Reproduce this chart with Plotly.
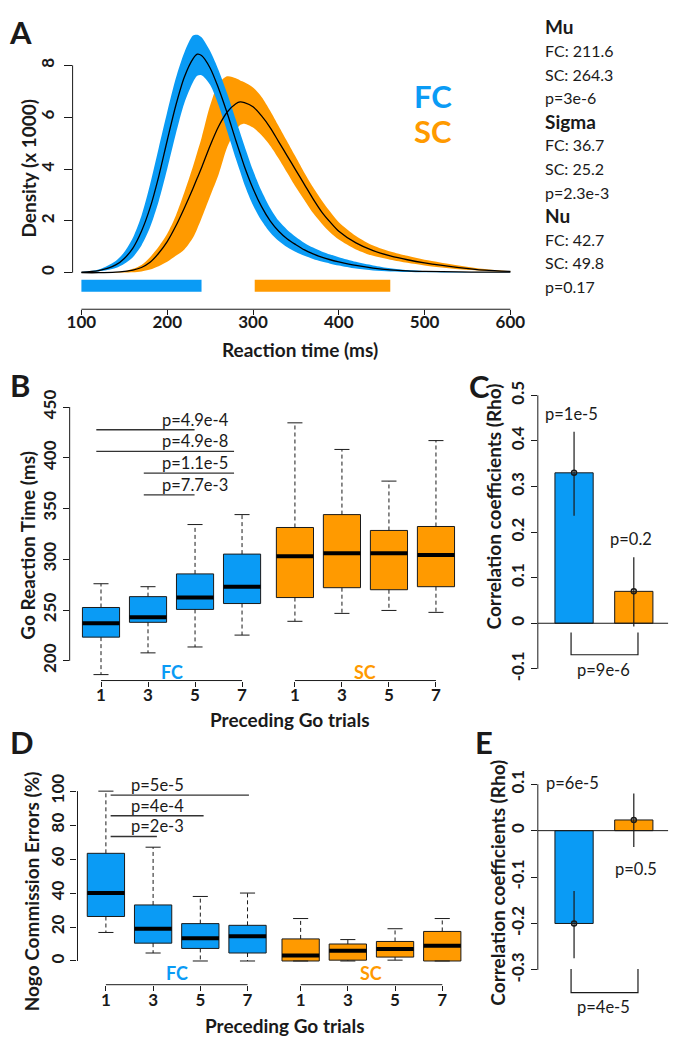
import plotly.graph_objects as go

W, H = 680, 1039
BLUE = '#0a9bf5'
ORANGE = '#ff9a00'
INK = '#1a1a1a'
FONT = 'Lato, "Open Sans", sans-serif'

# ---------------- Panel A: ex-Gaussian density fits (x 1000) ----------------
rt_ms = [100, 120, 140, 150, 160, 170, 180, 190, 200, 210, 220, 230, 235, 240, 250, 260, 270, 280, 285, 290,
         300, 310, 320, 330, 340, 350, 360, 370, 380, 390, 400, 420, 440, 460, 480, 500, 540, 570, 600]
fc_density = [0.02, 0.08, 0.3, 0.55, 0.95, 1.6, 2.5, 3.7, 5.1, 6.45, 7.55, 8.25, 8.43, 8.38, 7.9, 7.1, 6.15, 5.1, 4.6, 4.1,
              3.25, 2.55, 2.0, 1.6, 1.3, 1.08, 0.88, 0.73, 0.6, 0.5, 0.42, 0.28, 0.18, 0.11, 0.07, 0.05, 0.03, 0.02, 0.02]
fc_density_hi = [0.03, 0.12, 0.45, 0.8, 1.35, 2.2, 3.4, 4.8, 6.2, 7.5, 8.5, 9.15, 9.18, 9.08, 8.55, 7.8, 6.9, 5.9, 5.4, 4.9,
                 3.95, 3.15, 2.5, 2.0, 1.65, 1.38, 1.15, 0.97, 0.82, 0.7, 0.6, 0.42, 0.28, 0.17, 0.1, 0.06, 0.03, 0.02, 0.02]
fc_density_lo = [0.01, 0.05, 0.18, 0.35, 0.6, 1.05, 1.75, 2.75, 4.0, 5.35, 6.55, 7.35, 7.6, 7.62, 7.25, 6.45, 5.45, 4.4, 3.9, 3.4,
                 2.6, 2.0, 1.55, 1.22, 0.98, 0.8, 0.65, 0.53, 0.43, 0.35, 0.28, 0.16, 0.09, 0.05, 0.03, 0.02, 0.01, 0.01, 0.01]
sc_density = [0, 0, 0.02, 0.05, 0.1, 0.2, 0.4, 0.75, 1.2, 1.8, 2.5, 3.25, 3.65, 4.05, 4.9, 5.65, 6.2, 6.52, 6.59, 6.56,
              6.4, 6.05, 5.6, 5.05, 4.5, 3.95, 3.4, 2.85, 2.35, 1.95, 1.6, 1.15, 0.85, 0.65, 0.5, 0.38, 0.2, 0.1, 0.05]
sc_density_hi = [0, 0, 0.03, 0.06, 0.15, 0.3, 0.6, 1.0, 1.5, 2.2, 3.1, 4.1, 4.65, 5.2, 6.45, 7.3, 7.58, 7.5, 7.42, 7.35,
                 7.15, 6.78, 6.25, 5.65, 5.05, 4.45, 3.85, 3.3, 2.8, 2.35, 1.95, 1.42, 1.05, 0.82, 0.65, 0.5, 0.28, 0.14, 0.06]
sc_density_lo = [0, 0, 0.01, 0.01, 0.02, 0.05, 0.12, 0.25, 0.42, 0.65, 0.9, 1.35, 1.7, 2.1, 2.95, 3.8, 4.85, 5.5, 5.7, 5.75,
                 5.6, 5.3, 4.9, 4.4, 3.85, 3.3, 2.8, 2.3, 1.9, 1.55, 1.28, 0.9, 0.65, 0.5, 0.38, 0.28, 0.13, 0.07, 0.04]
fc_bar_ms = [100, 240]
sc_bar_ms = [302, 460]
param_names = ['Mu', 'Sigma', 'Nu']
param_fc = ['211.6', '36.7', '42.7']
param_sc = ['264.3', '25.2', '49.8']
param_p = ['p=3e-6', 'p=2.3e-3', 'p=0.17']

# ---------------- Panel B: Go RT boxplots ----------------
trial_labels = ['1', '3', '5', '7']
fc_pos = [1, 2, 3, 4]
sc_pos = [5.125, 6.125, 7.125, 8.125]
fc_rt_q1 = [223.3, 237.9, 250.6, 256.4]
fc_rt_med = [237.0, 242.8, 262.3, 273.0]
fc_rt_q3 = [252.5, 263.2, 285.6, 305.1]
fc_rt_lo = [186.4, 207.8, 213.6, 225.3]
fc_rt_hi = [275.9, 273.0, 334.2, 344.0]
sc_rt_q1 = [262.3, 272.0, 270.0, 273.0]
sc_rt_med = [303.1, 306.0, 306.0, 304.1]
sc_rt_q3 = [331.3, 344.0, 328.4, 332.3]
sc_rt_lo = [238.9, 246.7, 249.6, 247.7]
sc_rt_hi = [434.4, 408.2, 377.0, 416.9]
rt_sig_from = [0.9, 0.9, 1.91, 1.91]
rt_sig_to = [2.99, 3.83, 3.83, 2.99]
rt_sig_y = [427.6, 406.2, 384.8, 363.4]
rt_sig_text = ['p=4.9e-4', 'p=4.9e-8', 'p=1.1e-5', 'p=7.7e-3']

# ---------------- Panel C: correlation (Go RT) ----------------
groups = ['FC', 'SC']
grp_pos = [1, 2]
rho_go = [0.33, 0.07]
rho_go_lo = [0.236, -0.007]
rho_go_hi = [0.42, 0.145]
rho_go_p = ['p=1e-5', 'p=0.2']
rho_go_diff_p = 'p=9e-6'

# ---------------- Panel D: Nogo commission errors ----------------
fc_err_q1 = [26.2, 10.5, 7.4, 4.7]
fc_err_med = [40.0, 19.0, 13.4, 14.5]
fc_err_q3 = [63.4, 33.0, 22.0, 21.0]
fc_err_lo = [16.8, 4.7, 0.0, 0.0]
fc_err_hi = [100.0, 67.0, 38.0, 40.0]
sc_err_q1 = [0.0, 0.5, 2.3, 0.0]
sc_err_med = [3.3, 6.0, 7.0, 9.0]
sc_err_q3 = [13.0, 10.0, 11.5, 17.4]
sc_err_lo = [0.0, 0.0, 0.5, 0.0]
sc_err_hi = [25.0, 12.6, 19.0, 25.0]
err_sig_from = [1.10, 1.10, 1.10]
err_sig_to = [4.03, 3.07, 2.08]
err_sig_y = [97.7, 85.5, 73.3]
err_sig_text = ['p=5e-5', 'p=4e-4', 'p=2e-3']

# ---------------- Panel E: correlation (Nogo errors) ----------------
rho_ng = [-0.2, 0.023]
rho_ng_lo = [-0.275, -0.035]
rho_ng_hi = [-0.13, 0.08]
rho_ng_p = ['p=6e-5', 'p=0.5']
rho_ng_diff_p = 'p=4e-5'


def xd(a, b):
    return [a / W, b / W]


def yd(top, bottom):
    return [1 - bottom / H, 1 - top / H]


fig = go.Figure()
TICKFONT = dict(family=FONT, size=17, color=INK, weight='bold')
XTICK = dict(family=FONT, size=17, color=INK, weight='bold')
TITLE = 19
PFONT = 16.5


def base_axis(domain, rng, **kw):
    d = dict(domain=domain, range=rng, showgrid=False, zeroline=False, showline=False,
             ticks='outside', ticklen=6, tickwidth=1, tickcolor=INK, tickfont=TICKFONT)
    d.update(kw)
    return d


def ann(text, x, y, size, bold=False, color=INK, angle=0, xanchor='center', xref='paper', yref='paper', yanchor='middle'):
    if xref == 'paper':
        x = x / W
    if yref == 'paper':
        y = 1 - y / H
    fig.add_annotation(text=text, x=x, y=y, xref=xref, yref=yref, showarrow=False, textangle=angle,
                       xanchor=xanchor, yanchor=yanchor,
                       font=dict(family=FONT, size=size, color=color, weight='bold' if bold else 'normal'))


def vline_axis(xa, ya, y0, y1):
    fig.add_shape(type='line', xref=xa + ' domain', x0=0, x1=0, yref=ya, y0=y0, y1=y1,
                  line=dict(color=INK, width=1))


# ================= Panel A =================
for lo, hi, col in [(sc_density_lo, sc_density_hi, ORANGE), (fc_density_lo, fc_density_hi, BLUE)]:
    fig.add_trace(go.Scatter(x=rt_ms, y=lo, mode='lines', line=dict(width=0, shape='spline', smoothing=0.8),
                             xaxis='x', yaxis='y', hoverinfo='skip'))
    fig.add_trace(go.Scatter(x=rt_ms, y=hi, mode='lines', line=dict(width=0, shape='spline', smoothing=0.8),
                             fill='tonexty', fillcolor=col, xaxis='x', yaxis='y', hoverinfo='skip'))
for mean in [sc_density, fc_density]:
    fig.add_trace(go.Scatter(x=rt_ms, y=mean, mode='lines', line=dict(width=1.3, color='black', shape='spline', smoothing=0.8),
                             xaxis='x', yaxis='y', hoverinfo='skip'))
for rng_ms, col in [(fc_bar_ms, BLUE), (sc_bar_ms, ORANGE)]:
    fig.add_trace(go.Scatter(x=rng_ms, y=[-0.5, -0.5], mode='lines', line=dict(width=12, color=col),
                             xaxis='x', yaxis='y', hoverinfo='skip'))

fig.update_layout(
    xaxis=base_axis(xd(68, 522), [89.73, 608.0], tickvals=[100, 200, 300, 400, 500, 600], ticklen=5,
                    tickfont=XTICK, ticklabelstandoff=-8),
    yaxis=base_axis(yd(15, 300), [-1.4095, 9.448], tickvals=[0, 2, 4, 6, 8], tickangle=-90, ticklen=8,
                    ticklabelstandoff=3),
)
fig.add_shape(type='line', xref='x', x0=100, x1=600, yref='y domain', y0=0, y1=0, line=dict(color=INK, width=1))
vline_axis('x', 'y', 0, 8)
ann('A', 15, 19, 31, bold=True)
ann('Density (x 1000)', 23, 157, TITLE, bold=True, angle=-90)
ann('Reaction time (ms)', 300, 341, TITLE, bold=True)
ann('FC', 436, 84, 31, bold=True, color=BLUE)
ann('SC', 436, 120, 31, bold=True, color=ORANGE)
row = 0
for name, vf, vs, p in zip(param_names, param_fc, param_sc, param_p):
    for txt, bold, size in [(name, True, 19), ('FC: ' + vf, False, 16), ('SC: ' + vs, False, 16), (p, False, 16)]:
        ann(txt, 548, 14 + row * 23.9, size, bold=bold, xanchor='left')
        row += 1


# ================= Box helper =================
def add_boxes(pos, q1, med, q3, lo, hi, color, xa, ya, bw, cw):
    fig.add_trace(go.Bar(x=pos, y=[b - a for a, b in zip(q1, q3)], base=q1, width=bw,
                         marker=dict(color=color, line=dict(color=INK, width=1)),
                         xaxis=xa, yaxis=ya, hoverinfo='skip'))
    wx, wy, cx, cy, mx, my = [], [], [], [], [], []
    for p, a, m, b, l, h in zip(pos, q1, med, q3, lo, hi):
        wx += [p, p, None, p, p, None]
        wy += [b, h, None, a, l, None]
        cx += [p - cw / 2, p + cw / 2, None, p - cw / 2, p + cw / 2, None]
        cy += [h, h, None, l, l, None]
        mx += [p - bw / 2, p + bw / 2, None]
        my += [m, m, None]
    fig.add_trace(go.Scatter(x=wx, y=wy, mode='lines', line=dict(color=INK, width=1, dash='4px,3px'),
                             xaxis=xa, yaxis=ya, hoverinfo='skip'))
    fig.add_trace(go.Scatter(x=cx, y=cy, mode='lines', line=dict(color=INK, width=1),
                             xaxis=xa, yaxis=ya, hoverinfo='skip'))
    fig.add_trace(go.Scatter(x=mx, y=my, mode='lines', line=dict(color='black', width=4),
                             xaxis=xa, yaxis=ya, hoverinfo='skip'))


def add_sig(x0s, x1s, ys, texts, xa, ya, label_x):
    sx, sy = [], []
    for a, b, y in zip(x0s, x1s, ys):
        sx += [a, b, None]
        sy += [y, y, None]
    fig.add_trace(go.Scatter(x=sx, y=sy, mode='lines', line=dict(color='#333', width=1.3),
                             xaxis=xa, yaxis=ya, hoverinfo='skip'))
    for y, t in zip(ys, texts):
        fig.add_annotation(text=t, x=label_x, y=y, xref=xa, yref=ya, showarrow=False, xanchor='left',
                           yanchor='bottom', yshift=-2, font=dict(family=FONT, size=PFONT, color=INK))


# ================= Panel B =================
add_boxes(fc_pos, fc_rt_q1, fc_rt_med, fc_rt_q3, fc_rt_lo, fc_rt_hi, BLUE, 'x2', 'y2', 0.79, 0.32)
add_boxes(sc_pos, sc_rt_q1, sc_rt_med, sc_rt_q3, sc_rt_lo, sc_rt_hi, ORANGE, 'x2', 'y2', 0.79, 0.32)
add_sig(rt_sig_from, rt_sig_to, rt_sig_y, rt_sig_text, 'x2', 'y2', 2.25)
fig.update_layout(
    xaxis2=base_axis(xd(65, 470), [0.3333, 8.7708], tickvals=fc_pos + sc_pos, ticktext=trial_labels * 2,
                     anchor='y2', tickfont=XTICK, ticklen=5, ticklabelstandoff=-6),
    yaxis2=base_axis(yd(395, 676), [180.54, 453.89], tickvals=[200, 250, 300, 350, 400, 450], tickangle=-90,
                     anchor='x2'),
)
vline_axis('x2', 'y2', 200, 450)
for pos, col, name in [(fc_pos, BLUE, 'FC'), (sc_pos, ORANGE, 'SC')]:
    fig.add_shape(type='line', xref='x2', x0=pos[0], x1=pos[-1], yref='y2 domain', y0=0, y1=0,
                  line=dict(color=INK, width=1))
    ann(name, (pos[0] + pos[-1]) / 2, 189.3, 18, bold=True, color=col, xref='x2', yref='y2')
ann('B', 14, 377, 31, bold=True)
ann('Go Reaction Time (ms)', 22, 539, TITLE, bold=True, angle=-90)
ann('Preceding Go trials', 290, 715, TITLE, bold=True)


# ================= Correlation bar helper =================
def add_corr(vals, lo, hi, xa, ya):
    fig.add_trace(go.Bar(x=grp_pos, y=vals, width=0.64, marker=dict(color=[BLUE, ORANGE], line=dict(color=INK, width=1)),
                         xaxis=xa, yaxis=ya, hoverinfo='skip'))
    fig.add_trace(go.Scatter(x=grp_pos, y=vals, mode='markers',
                             marker=dict(symbol='circle-open', size=5, color=INK, line=dict(width=1.5, color=INK)),
                             error_y=dict(type='data', symmetric=False,
                                          array=[h - v for h, v in zip(hi, vals)],
                                          arrayminus=[v - l for v, l in zip(vals, lo)],
                                          width=0, thickness=1.2, color=INK),
                             xaxis=xa, yaxis=ya, hoverinfo='skip'))
    fig.add_shape(type='line', xref=xa + ' domain', x0=0, x1=1, yref=ya, y0=0, y1=0, line=dict(color=INK, width=1))


def add_bracket(xa, ya, top, bottom):
    x0, x1 = grp_pos[0] - 0.05, grp_pos[1] + 0.07
    fig.add_trace(go.Scatter(x=[x0, x0, x1, x1], y=[top, bottom, bottom, top], mode='lines',
                             line=dict(color=INK, width=1.2), xaxis=xa, yaxis=ya, hoverinfo='skip'))


# ================= Panel C =================
add_corr(rho_go, rho_go_lo, rho_go_hi, 'x3', 'y3')
add_bracket('x3', 'y3', -0.02, -0.069)
fig.update_layout(
    xaxis3=base_axis(xd(543, 676), [0.3934, 2.5738], showticklabels=False, ticks='', anchor='y3'),
    yaxis3=base_axis(yd(380, 680), [-0.1343, 0.5155], tickvals=[-0.1, 0, 0.1, 0.2, 0.3, 0.4, 0.5],
                     ticktext=['-0.1', '0', '0.1', '0.2', '0.3', '0.4', '0.5'], tickangle=-90, anchor='x3'),
)
vline_axis('x3', 'y3', -0.1, 0.5)
ann(rho_go_p[0], 0.95, 0.459, PFONT, xref='x3', yref='y3')
ann(rho_go_p[1], 1.95, 0.184, PFONT, xref='x3', yref='y3')
ann(rho_go_diff_p, 1.5, -0.102, PFONT, xref='x3', yref='y3')
ann('C', 483, 378, 31, bold=True)
ann('Correlation coefficients (Rho)', 498, 500, TITLE, bold=True, angle=-90)

# ================= Panel D =================
add_boxes(fc_pos, fc_err_q1, fc_err_med, fc_err_q3, fc_err_lo, fc_err_hi, BLUE, 'x4', 'y4', 0.79, 0.32)
add_boxes(sc_pos, sc_err_q1, sc_err_med, sc_err_q3, sc_err_lo, sc_err_hi, ORANGE, 'x4', 'y4', 0.79, 0.32)
add_sig(err_sig_from, err_sig_to, err_sig_y, err_sig_text, 'x4', 'y4', 1.48)
fig.update_layout(
    xaxis4=base_axis(xd(73, 470), [0.3983, 8.6349], tickvals=fc_pos + sc_pos, ticktext=trial_labels * 2,
                     anchor='y4', tickfont=XTICK, ticklen=5, ticklabelstandoff=-5),
    yaxis4=base_axis(yd(775, 984), [-13.95, 107.56], tickvals=[0, 20, 40, 60, 80, 100], tickangle=-90, anchor='x4'),
)
vline_axis('x4', 'y4', 0, 100)
for pos, col, name in [(fc_pos, BLUE, 'FC'), (sc_pos, ORANGE, 'SC')]:
    fig.add_shape(type='line', xref='x4', x0=pos[0], x1=pos[-1], yref='y4 domain', y0=0, y1=0,
                  line=dict(color=INK, width=1))
    ann(name, (pos[0] + pos[-1]) / 2, -7.3, 18, bold=True, color=col, xref='x4', yref='y4')
ann('D', 16, 738, 31, bold=True)
ann('Nogo Commission Errors (%)', 26, 889, TITLE, bold=True, angle=-90)
ann('Preceding Go trials', 285, 1025, TITLE, bold=True)

# ================= Panel E =================
add_corr(rho_ng, rho_ng_lo, rho_ng_hi, 'x5', 'y5')
add_bracket('x5', 'y5', -0.298, -0.349)
fig.update_layout(
    xaxis5=base_axis(xd(543, 676), [0.3934, 2.5738], showticklabels=False, ticks='', anchor='y5'),
    yaxis5=base_axis(yd(770, 1025), [-0.4191, 0.1234], tickvals=[-0.3, -0.2, -0.1, 0, 0.1],
                     ticktext=['-0.3', '-0.2', '-0.1', '0', '0.1'], tickangle=-90, anchor='x5'),
)
vline_axis('x5', 'y5', -0.3, 0.1)
ann(rho_ng_p[0], 0.492, 0.102, PFONT, xref='x5', yref='y5', xanchor='left')
ann(rho_ng_p[1], 2.03, -0.083, PFONT, xref='x5', yref='y5')
ann(rho_ng_diff_p, 1.5, -0.381, PFONT, xref='x5', yref='y5')
ann('E', 488, 738, 31, bold=True)
ann('Correlation coefficients (Rho)', 502, 881, TITLE, bold=True, angle=-90)

fig.update_layout(width=W, height=H, margin=dict(l=0, r=0, t=0, b=0), showlegend=False,
                  barmode='overlay', plot_bgcolor='white', paper_bgcolor='white',
                  font=dict(family=FONT, color=INK))
fig.write_html('out.html', config={'displayModeBar': False},
               post_script="document.body.style.margin='0';document.body.style.overflow='hidden';")
